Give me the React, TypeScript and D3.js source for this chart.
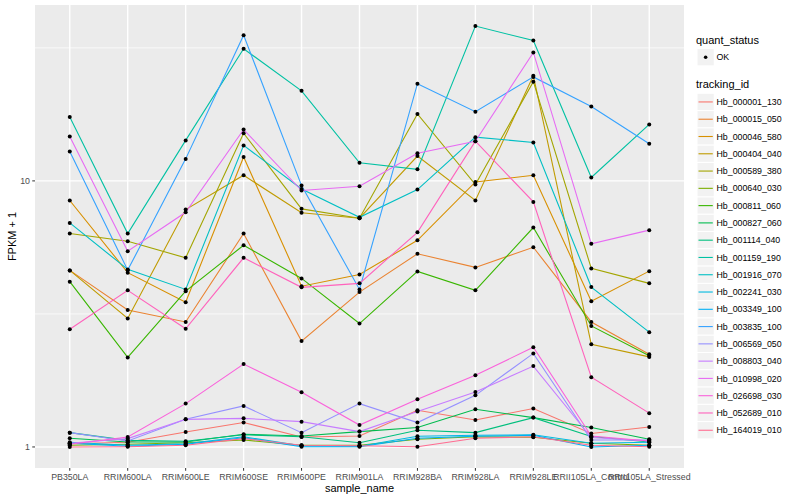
import * as d3 from "d3";

const samples = [
  "PB350LA",
  "RRIM600LA",
  "RRIM600LE",
  "RRIM600SE",
  "RRIM600PE",
  "RRIM901LA",
  "RRIM928BA",
  "RRIM928LA",
  "RRIM928LE",
  "RRII105LA_Control",
  "RRII105LA_Stressed",
];

// FPKM + 1 for each tracking id, in sample order
const hb000001_130 = [1.028, 1.041, 1.138, 1.235, 1.09, 1.1, 1.373, 1.263, 1.394, 1.123, 1.189];
const hb000015_050 = [4.61, 3.27, 2.95, 6.34, 2.5, 3.82, 5.32, 4.73, 5.63, 2.95, 2.23];
const hb000046_580 = [8.44, 4.52, 3.5, 12.3, 4.02, 4.45, 5.98, 9.91, 10.5, 3.53, 4.58];
const hb000404_040 = [4.61, 3.04, 7.8, 10.5, 7.59, 7.24, 12.4, 8.44, 24.85, 2.43, 2.18];
const hb000589_380 = [6.34, 5.93, 5.14, 15.1, 7.85, 7.24, 17.85, 9.69, 23.6, 4.69, 4.12];
const hb000640_030 = [1.015, 1.024, 1.037, 1.062, 1.015, 1.015, 1.069, 1.092, 1.087, 1.032, 1.015];
const hb000811_060 = [4.18, 2.17, 3.85, 5.73, 4.3, 2.91, 4.57, 3.88, 6.68, 2.85, 2.2];
const hb000827_060 = [1.078, 1.044, 1.044, 1.116, 1.1, 1.142, 1.183, 1.385, 1.289, 1.183, 1.069];
const hb001114_040 = [1.132, 1.059, 1.05, 1.111, 1.092, 1.037, 1.155, 1.132, 1.289, 1.094, 1.044];
const hb001159_190 = [17.4, 6.34, 14.2, 31.4, 21.8, 11.7, 11.05, 38.2, 33.7, 10.3, 16.3];
const hb001916_070 = [6.95, 4.65, 3.91, 13.6, 9.33, 7.3, 9.28, 14.6, 13.95, 3.99, 2.7];
const hb002241_030 = [1.041, 1.015, 1.028, 1.092, 1.01, 1.006, 1.097, 1.106, 1.111, 1.032, 1.041];
const hb003349_100 = [1.032, 1.006, 1.024, 1.083, 1.002, 1.002, 1.078, 1.097, 1.106, 1.0, 1.015];
const hb003835_100 = [12.9, 4.62, 12.1, 35.3, 9.6, 3.91, 23.2, 18.2, 24.6, 19.05, 13.8];
const hb006569_050 = [1.132, 1.053, 1.27, 1.426, 1.132, 1.455, 1.235, 1.563, 2.247, 1.062, 1.062];
const hb008803_040 = [1.032, 1.075, 1.27, 1.281, 1.245, 1.142, 1.358, 1.608, 2.014, 1.085, 1.053];
const hb010998_020 = [14.7, 5.44, 7.62, 15.6, 9.2, 9.55, 12.7, 14.1, 30.4, 5.8, 6.53];
const hb026698_030 = [1.024, 1.09, 1.455, 2.05, 1.605, 1.209, 1.51, 1.859, 2.371, 1.1, 1.053];
const hb052689_010 = [2.77, 3.88, 2.78, 5.14, 3.98, 4.12, 6.41, 14.1, 8.34, 1.83, 1.34];
const hb164019_010 = [1.0, 1.002, 1.015, 1.075, 1.015, 1.01, 1.002, 1.078, 1.092, 1.015, 1.002];

const trackingIds = [
  "Hb_000001_130", "Hb_000015_050", "Hb_000046_580", "Hb_000404_040", "Hb_000589_380",
  "Hb_000640_030", "Hb_000811_060", "Hb_000827_060", "Hb_001114_040", "Hb_001159_190",
  "Hb_001916_070", "Hb_002241_030", "Hb_003349_100", "Hb_003835_100", "Hb_006569_050",
  "Hb_008803_040", "Hb_010998_020", "Hb_026698_030", "Hb_052689_010", "Hb_164019_010",
];

const seriesValues = [
  hb000001_130, hb000015_050, hb000046_580, hb000404_040, hb000589_380,
  hb000640_030, hb000811_060, hb000827_060, hb001114_040, hb001159_190,
  hb001916_070, hb002241_030, hb003349_100, hb003835_100, hb006569_050,
  hb008803_040, hb010998_020, hb026698_030, hb052689_010, hb164019_010,
];

// ggplot default hue palette for 20 levels
const palette = [
  "#F8766D", "#EA8331", "#D89000", "#C09B00", "#A3A500",
  "#7CAE00", "#39B600", "#00BB4E", "#00BF7D", "#00C1A3",
  "#00BFC4", "#00BAE0", "#00B0F6", "#35A2FF", "#9590FF",
  "#C77CFF", "#E76BF3", "#FA62DB", "#FF62BC", "#FF6C91",
];

const panel = { left: 35, right: 684, top: 5, bottom: 468 };
const font = "'Liberation Sans', Arial, sans-serif";
const keySize = 17.28;

export default function App() {
  const x = d3
    .scalePoint<string>()
    .domain(samples)
    .range([panel.left, panel.right])
    .padding(0.6);

  // log scale with ggplot's 5% expansion in transformed space
  const [lo, hi] = d3.extent(seriesValues.flat()) as [number, number];
  const l0 = Math.log10(lo);
  const l1 = Math.log10(hi);
  const pad = (l1 - l0) * 0.05;
  const y = d3
    .scaleLog()
    .domain([10 ** (l0 - pad), 10 ** (l1 + pad)])
    .range([panel.bottom, panel.top]);

  const [d0, d1] = y.domain();
  const majorY = [0.1, 1, 10, 100].filter((v) => v >= d0 && v <= d1);
  const minorY = d3
    .pairs([0.1, 1, 10, 100])
    .map(([a, b]) => Math.sqrt(a * b))
    .filter((v) => v >= d0 && v <= d1);

  const line = d3
    .line<number>()
    .x((_, i) => x(samples[i])!)
    .y((d) => y(d));

  return (
    <div style={{ position: "fixed", left: 0, top: 0 }}>
      <svg width={800} height={500} style={{ display: "block", background: "#fff" }}>
        <rect
          x={panel.left}
          y={panel.top}
          width={panel.right - panel.left}
          height={panel.bottom - panel.top}
          fill="#EBEBEB"
        />
        {minorY.map((v) => (
          <line key={"mn" + v} x1={panel.left} x2={panel.right} y1={y(v)} y2={y(v)} stroke="#fff" strokeWidth={0.7} />
        ))}
        {majorY.map((v) => (
          <line key={"mj" + v} x1={panel.left} x2={panel.right} y1={y(v)} y2={y(v)} stroke="#fff" strokeWidth={1.4} />
        ))}
        {samples.map((s) => (
          <line key={"vx" + s} x1={x(s)} x2={x(s)} y1={panel.top} y2={panel.bottom} stroke="#fff" strokeWidth={1.4} />
        ))}

        {seriesValues.map((vals, i) => (
          <path key={trackingIds[i]} d={line(vals) || ""} fill="none" stroke={palette[i]} strokeWidth={1.1} />
        ))}
        {seriesValues.map((vals, i) =>
          vals.map((v, j) => (
            <circle key={trackingIds[i] + j} cx={x(samples[j])} cy={y(v)} r={2} fill="#000" />
          ))
        )}

        {/* y axis */}
        {majorY.map((v) => (
          <g key={"yt" + v}>
            <line x1={panel.left - 2.75} x2={panel.left} y1={y(v)} y2={y(v)} stroke="#333" strokeWidth={1} />
            <text x={panel.left - 5} y={y(v) + 3.1} textAnchor="end" fontFamily={font} fontSize={8.8} fill="#4D4D4D">
              {v}
            </text>
          </g>
        ))}
        <text
          transform={`translate(16, ${(panel.top + panel.bottom) / 2}) rotate(-90)`}
          textAnchor="middle"
          fontFamily={font}
          fontSize={11}
          fill="#000"
        >
          FPKM + 1
        </text>

        {/* x axis */}
        {samples.map((s) => (
          <g key={"xt" + s}>
            <line x1={x(s)} x2={x(s)} y1={panel.bottom} y2={panel.bottom + 2.75} stroke="#333" strokeWidth={1} />
            <text x={x(s)} y={480} textAnchor="middle" fontFamily={font} fontSize={8.8} fill="#4D4D4D">
              {s}
            </text>
          </g>
        ))}
        <text x={(panel.left + panel.right) / 2} y={492} textAnchor="middle" fontFamily={font} fontSize={11} fill="#000">
          sample_name
        </text>

        {/* legends */}
        <text x={696} y={43.5} fontFamily={font} fontSize={11} fill="#000">
          quant_status
        </text>
        <rect x={697} y={48.6} width={keySize} height={keySize} fill="#F2F2F2" stroke="#fff" strokeWidth={1} />
        <circle cx={697 + keySize / 2} cy={48.6 + keySize / 2} r={1.8} fill="#000" />
        <text x={716.5} y={48.6 + keySize / 2 + 3.1} fontFamily={font} fontSize={8.8} fill="#000">
          OK
        </text>

        <text x={696} y={88} fontFamily={font} fontSize={11} fill="#000">
          tracking_id
        </text>
        {trackingIds.map((id, i) => {
          const top = 93.3 + i * keySize;
          return (
            <g key={"lg" + id}>
              <rect x={697} y={top} width={keySize} height={keySize} fill="#F2F2F2" stroke="#fff" strokeWidth={1} />
              <line
                x1={698.5}
                x2={697 + keySize - 1.5}
                y1={top + keySize / 2}
                y2={top + keySize / 2}
                stroke={palette[i]}
                strokeWidth={1.1}
              />
              <text x={716.5} y={top + keySize / 2 + 3.1} fontFamily={font} fontSize={8.8} fill="#000">
                {id}
              </text>
            </g>
          );
        })}
      </svg>
    </div>
  );
}
